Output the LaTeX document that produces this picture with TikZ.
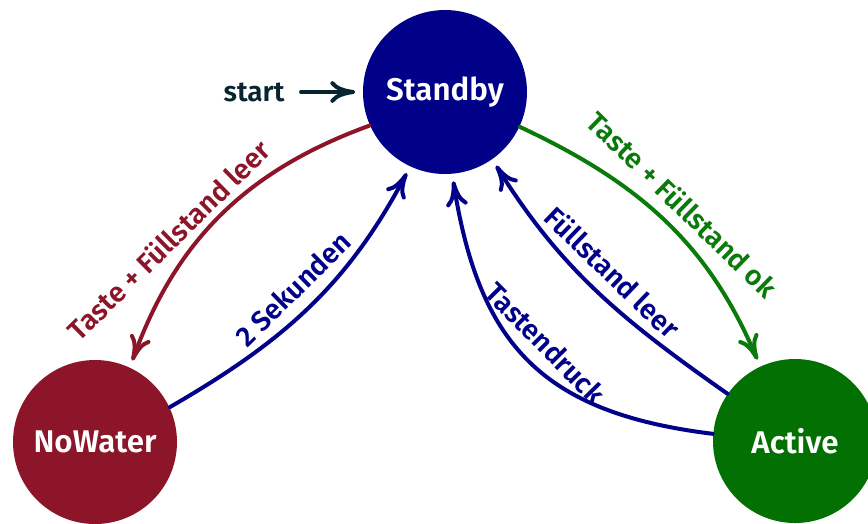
\documentclass[tikz,border=0pt]{standalone}
\usepackage{fontspec}
\setmainfont{Fira Sans}[BoldFont={* SemiBold}]
\usepackage{tikz}
\usetikzlibrary{arrows.meta}
\definecolor{standbyblue}{RGB}{0,0,136}
\definecolor{nowaterred}{RGB}{140,21,42}
\definecolor{activegreen}{RGB}{3,112,3}
\definecolor{edgegreen}{RGB}{10,122,10}
\definecolor{startdark}{RGB}{8,36,48}

\begin{document}
\begin{tikzpicture}[
    x=0.3pt, y=0.3pt,
    statenode/.style={circle, fill=#1, text=white, minimum size=49.2pt, inner sep=0pt, font=\fontsize{9.4}{11}\selectfont\bfseries},
    trans/.style={draw=#1, text=#1, line width=1.2pt, line cap=round, -{To[length=7.5pt, width=6.5pt, round]}, shorten >=2.1pt, font=\fontsize{8.4}{10}\selectfont\bfseries},
]
    \useasboundingbox (0,0) rectangle (868,523);
    \node[statenode=standbyblue] (standby) at (445,431) {Standby};
    \node[statenode=nowaterred] (nowater) at (95,81) {NoWater};
    \node[statenode=activegreen] (active) at (795,82) {Active};
    \node[text=startdark, inner xsep=4.8pt, font=\fontsize{8.4}{10}\selectfont\bfseries] (start) at (254,431) {start};

    \draw[trans=startdark] (start) -- (standby);
    \draw[trans=nowaterred] (standby.204) to[out=200, in=70] node[sloped, above, pos=0.66, rotate=-10] {Taste + Füllstand leer} (nowater.65);
    \draw[trans=standbyblue] (nowater.25) to[out=30, in=242] node[sloped, above] {2 Sekunden} (standby.245);
    \draw[trans=edgegreen] (standby.-25) to[out=-25, in=113] node[sloped, above] {Taste + Füllstand ok} (active.115);
    \draw[trans=standbyblue] (active.145) to[out=145, in=302] node[sloped, above] {Füllstand leer} (standby.305);
    \draw[trans=standbyblue] (active.175) to[out=173, in=279, looseness=1.2] node[sloped, above] {Tastendruck} (standby.275);
\end{tikzpicture}
\end{document}
